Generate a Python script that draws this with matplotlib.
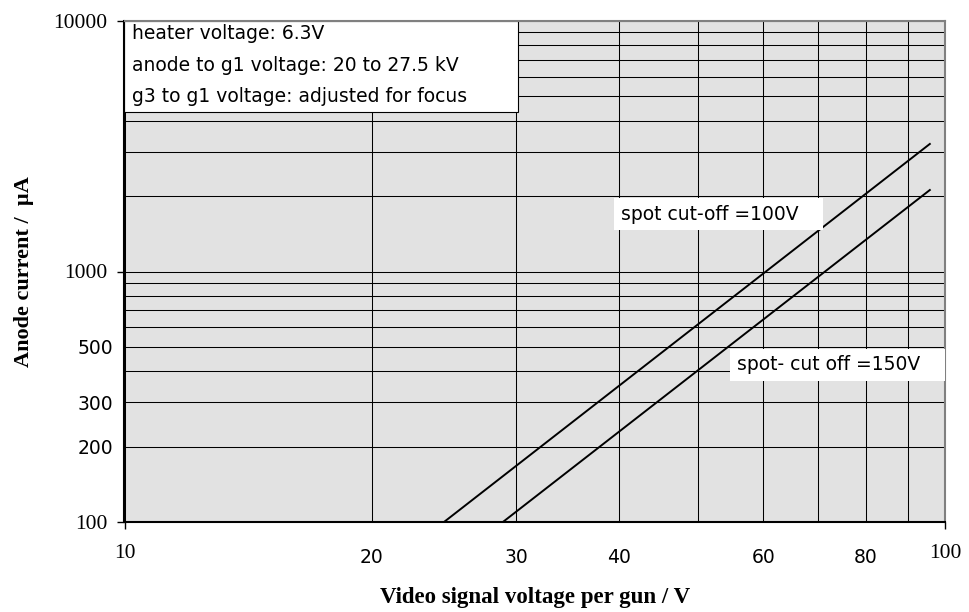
import matplotlib
matplotlib.use('Agg')
import matplotlib.pyplot as plt
from matplotlib.patches import Rectangle

# tick positions / labels
x_major = [10, 100]
x_major_labels = ['10', '100']
x_minor = [20, 30, 40, 50, 60, 70, 80, 90]
x_minor_labels = ['20', '30', '40', '', '60', '', '80', '']

y_major = [100, 1000, 10000]
y_major_labels = ['100', '1000', '10000']
y_minor = [200, 300, 400, 500, 600, 700, 800, 900,
           2000, 3000, 4000, 5000, 6000, 7000, 8000, 9000]
y_minor_labels = ['200', '300', '', '500', '', '', '', '',
                  '', '', '', '', '', '', '', '']

# the two characteristic lines (video signal V, anode current uA)
cutoff_100_x = [24.5, 95.7]
cutoff_100_y = [100, 3230]
cutoff_150_x = [28.9, 95.7]
cutoff_150_y = [100, 2115]

notes = ['heater voltage: 6.3V',
         'anode to g1 voltage: 20 to 27.5 kV',
         'g3 to g1 voltage: adjusted for focus']

SANS = 'DejaVu Sans'
SERIF = 'Liberation Serif'

fig = plt.figure(figsize=(9.7, 6.12), dpi=100)
ax = fig.add_axes([124.5 / 970, 90 / 612, 821 / 970, 501 / 612])
ax.set_facecolor('#e2e2e2')
ax.set_xscale('log')
ax.set_yscale('log')
ax.set_xlim(10, 100)
ax.set_ylim(100, 10000)

ax.set_xticks(x_major)
ax.set_xticklabels(x_major_labels, fontfamily=SERIF, fontsize=15.5)
ax.set_xticks(x_minor, minor=True)
ax.set_xticklabels(x_minor_labels, minor=True, fontfamily=SANS, fontsize=13.5)
ax.set_yticks(y_major)
ax.set_yticklabels(y_major_labels, fontfamily=SERIF, fontsize=15.5)
ax.set_yticks(y_minor, minor=True)
ax.set_yticklabels(y_minor_labels, minor=True, fontfamily=SANS, fontsize=13.5)

ax.tick_params(axis='x', which='major', length=5, width=1, pad=10.5)
ax.tick_params(axis='x', which='minor', length=0, pad=19)
ax.tick_params(axis='y', which='major', length=5, width=1, pad=7.5)
ax.tick_params(axis='y', which='minor', length=0, pad=8)

ax.grid(True, which='both', color='black', lw=0.75)
ax.set_axisbelow(True)

for s in ['left', 'bottom']:
    ax.spines[s].set_color('black')
    ax.spines[s].set_linewidth(1.5)
for s in ['top', 'right']:
    ax.spines[s].set_color('#808080')
    ax.spines[s].set_linewidth(1.5)

ax.plot(cutoff_100_x, cutoff_100_y, color='black', lw=1.4, zorder=2)
ax.plot(cutoff_150_x, cutoff_150_y, color='black', lw=1.4, zorder=2)

# info box top left
ax.add_patch(Rectangle((0, 0.818), 0.479, 0.182, transform=ax.transAxes,
                       facecolor='white', edgecolor='black', lw=0.8, zorder=2.2))
for i, line in enumerate(notes):
    ax.text(0.009, 0.964 - i * 0.063, line, transform=ax.transAxes,
            va='baseline', ha='left', fontfamily=SANS, fontsize=13.5, zorder=3)

box = dict(boxstyle='square,pad=0.35', facecolor='white', edgecolor='none')
ax.text(40.2, 1696, 'spot cut-off =100V   ', va='center', ha='left',
        fontfamily=SANS, fontsize=13.5, bbox=box, zorder=3)
ax.text(55.7, 425, 'spot- cut off =150V   ', va='center', ha='left',
        fontfamily=SANS, fontsize=13.5, bbox=box, zorder=3)

fig.text(24 / 970, 1 - 271.5 / 612, 'Anode current /  \u00b5A', rotation=90,
         ha='center', va='center', fontfamily=SERIF, fontweight='bold', fontsize=16)
fig.text(535 / 970, 1 - 598 / 612, 'Video signal voltage per gun / V',
         ha='center', va='center', fontfamily=SERIF, fontweight='bold', fontsize=16.5)

fig.savefig('out.png', dpi=100)
